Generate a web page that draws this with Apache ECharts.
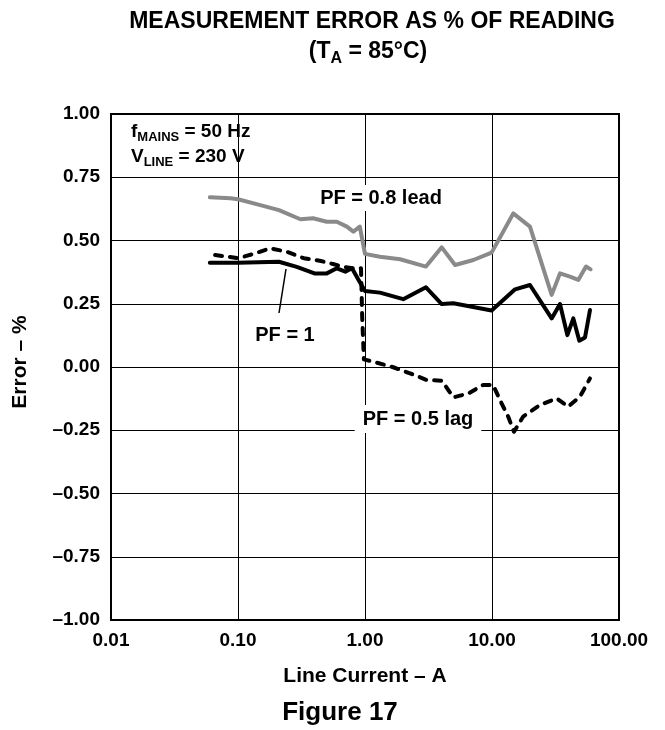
<!DOCTYPE html>
<html>
<head>
<meta charset="utf-8">
<script src="https://cdn.jsdelivr.net/npm/echarts@6/dist/echarts.min.js"></script>
<style>html,body{margin:0;padding:0;background:#fff}#c{width:665px;height:730px}</style>
</head>
<body>
<div id="c"></div>
<script>
const xTicks = [0.01, 0.1, 1, 10, 100];
const yTicks = [-1, -0.75, -0.5, -0.25, 0, 0.25, 0.5, 0.75, 1];

const leadX = [0.06, 0.087, 0.10, 0.15, 0.21, 0.31, 0.39, 0.50, 0.60, 0.72, 0.81, 0.91, 1.00, 1.31, 1.89, 3.02, 4.02, 5.12, 7.13, 9.93, 14.7, 19.9, 29.5, 34.3, 41.1, 47.8, 55.0, 59.8];
const leadY = [0.671, 0.667, 0.663, 0.640, 0.620, 0.584, 0.588, 0.574, 0.574, 0.555, 0.535, 0.555, 0.447, 0.436, 0.426, 0.397, 0.473, 0.403, 0.423, 0.452, 0.607, 0.555, 0.285, 0.370, 0.357, 0.344, 0.397, 0.386];

const unityX = [0.06, 0.10, 0.21, 0.29, 0.40, 0.50, 0.60, 0.70, 0.79, 0.89, 1.00, 1.31, 2.0, 3.02, 4.02, 4.96, 9.93, 15.2, 19.9, 29.5, 34.3, 39.2, 43.7, 48.7, 54.0, 59.1];
const unityY = [0.412, 0.412, 0.416, 0.396, 0.370, 0.370, 0.390, 0.377, 0.390, 0.344, 0.300, 0.294, 0.268, 0.315, 0.249, 0.252, 0.223, 0.307, 0.324, 0.192, 0.249, 0.126, 0.192, 0.104, 0.117, 0.225];

const lagX = [0.066, 0.10, 0.132, 0.18, 0.24, 0.33, 0.44, 0.56, 0.67, 0.80, 0.93, 0.95, 0.98, 1.16, 1.67, 2.26, 3.05, 4.02, 4.96, 6.56, 8.5, 10.2, 11.9, 13.4, 14.9, 17.6, 23.9, 32.3, 39.8, 49.3, 59.1];
const lagY = [0.443, 0.430, 0.447, 0.469, 0.456, 0.430, 0.420, 0.407, 0.396, 0.39, 0.39, 0.20, 0.03, 0.021, -0.001, -0.025, -0.051, -0.054, -0.120, -0.104, -0.071, -0.071, -0.144, -0.196, -0.256, -0.196, -0.150, -0.124, -0.157, -0.117, -0.045];

const titleText = 'MEASUREMENT ERROR AS % OF READING';
const xName = 'Line Current – A';
const yName = 'Error – %';
const figText = 'Figure 17';

function pairs(xs, ys) { return xs.map((x, i) => [x, ys[i]]); }
const FONT = '"Liberation Sans", Arial, Helvetica, sans-serif';
const B = {fontFamily: FONT, fontWeight: 'bold', fill: '#000'};

const chart = echarts.init(document.getElementById('c'), null, {renderer: 'canvas'});
chart.setOption({
  animation: false,
  backgroundColor: '#fff',
  textStyle: {fontFamily: FONT},
  grid: {left: 111, right: 46, top: 114, bottom: 110, show: true, borderColor: '#000', borderWidth: 2, containLabel: false},
  xAxis: {
    type: 'log', logBase: 10, min: xTicks[0], max: xTicks[xTicks.length - 1],
    axisLine: {show: false}, axisTick: {show: false}, minorTick: {show: false},
    splitLine: {show: true, lineStyle: {color: '#000', width: 1}},
    axisLabel: {color: '#000', fontFamily: FONT, fontWeight: 'bold', fontSize: 19, margin: 11,
      formatter: v => Number(v).toFixed(2)}
  },
  yAxis: {
    type: 'value', min: yTicks[0], max: yTicks[yTicks.length - 1], interval: 0.25,
    axisLine: {show: false}, axisTick: {show: false},
    splitLine: {show: true, lineStyle: {color: '#000', width: 1}},
    axisLabel: {color: '#000', fontFamily: FONT, fontWeight: 'bold', fontSize: 19, margin: 11,
      formatter: v => (Math.abs(v) < 1e-9 ? 0 : v).toFixed(2).replace('-', '–')}
  },
  series: [
    {type: 'line', data: pairs(leadX, leadY), showSymbol: false, symbol: 'none',
      lineStyle: {color: '#8a8a8a', width: 4, join: 'round', cap: 'round'}, z: 2},
    {type: 'line', data: pairs(lagX, lagY), showSymbol: false, symbol: 'none',
      lineStyle: {color: '#000', width: 4, type: [7, 8], join: 'round', cap: 'round'}, z: 3},
    {type: 'line', data: pairs(unityX, unityY), showSymbol: false, symbol: 'none',
      lineStyle: {color: '#000', width: 4, join: 'round', cap: 'round'}, z: 4}
  ],
  graphic: [
    {type: 'text', x: 372, y: 22, style: Object.assign({text: titleText, align: 'center', verticalAlign: 'middle', fontSize: 23}, B)},
    {type: 'text', x: 368, y: 52, style: {
      text: '{a|(T}{s|A}{a| = 85°C)}', align: 'center', verticalAlign: 'middle', fontFamily: FONT,
      rich: {a: Object.assign({fontSize: 23, lineHeight: 30, verticalAlign: 'middle'}, B),
             s: Object.assign({fontSize: 16, lineHeight: 14, verticalAlign: 'bottom'}, B)}}},
    {type: 'text', x: 131, y: 132, style: {
      text: '{a|f}{s|MAINS}{a| = 50 Hz}', align: 'left', verticalAlign: 'middle', fontFamily: FONT,
      rich: {a: Object.assign({fontSize: 19, lineHeight: 24, verticalAlign: 'middle'}, B),
             s: Object.assign({fontSize: 13, lineHeight: 11, verticalAlign: 'bottom'}, B)}}},
    {type: 'text', x: 131, y: 157, style: {
      text: '{a|V}{s|LINE}{a| = 230 V}', align: 'left', verticalAlign: 'middle', fontFamily: FONT,
      rich: {a: Object.assign({fontSize: 19, lineHeight: 24, verticalAlign: 'middle'}, B),
             s: Object.assign({fontSize: 13, lineHeight: 11, verticalAlign: 'bottom'}, B)}}},
    {type: 'text', x: 381, y: 198, z: 10, style: Object.assign({text: 'PF = 0.8 lead', align: 'center', verticalAlign: 'middle',
      fontSize: 20, backgroundColor: '#fff', padding: [3, 4]}, B)},
    {type: 'line', z: 10, shape: {x1: 286, y1: 269, x2: 279, y2: 313}, style: {stroke: '#000', lineWidth: 1.5}},
    {type: 'text', x: 285, y: 335, z: 10, style: Object.assign({text: 'PF = 1', align: 'center', verticalAlign: 'middle',
      fontSize: 20, backgroundColor: '#fff', padding: [2, 3]}, B)},
    {type: 'text', x: 418, y: 419, z: 10, style: Object.assign({text: 'PF = 0.5 lag', align: 'center', verticalAlign: 'middle',
      fontSize: 20, backgroundColor: '#fff', padding: [4, 8]}, B)},
    {type: 'text', x: 20, y: 362, rotation: Math.PI / 2, style: Object.assign({text: yName, align: 'center', verticalAlign: 'middle',
      fontSize: 21}, B)},
    {type: 'text', x: 365, y: 676, style: Object.assign({text: xName, align: 'center', verticalAlign: 'middle',
      fontSize: 21}, B)},
    {type: 'text', x: 340, y: 713, style: Object.assign({text: figText, align: 'center', verticalAlign: 'middle',
      fontSize: 26}, B)}
  ]
});
</script>
</body>
</html>
